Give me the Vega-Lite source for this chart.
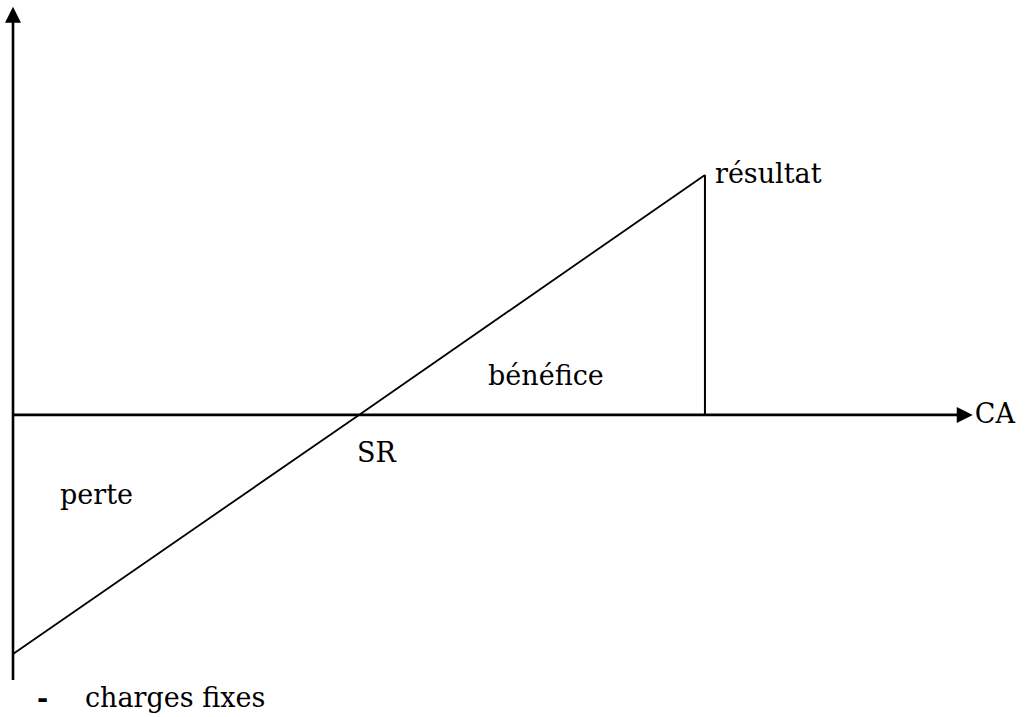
{
  "$schema": "https://vega.github.io/schema/vega-lite/v6.json",
  "width": 1026,
  "height": 717,
  "padding": 0,
  "autosize": {"type": "none"},
  "background": "white",
  "config": {"view": {"stroke": null}},
  "datasets": {
    "axes": [
      {"name": "vertical axis", "ca": 0, "resultat": -110.9, "ca2": 0, "resultat2": 167.4},
      {"name": "CA axis", "ca": 0, "resultat": 0, "ca2": 275.1, "resultat2": 0}
    ],
    "arrows": [
      {"dir": "up", "ca": 0, "resultat": 167.4},
      {"dir": "right", "ca": 275.1, "resultat": 0}
    ],
    "resultLine": [
      {"ca": 0, "resultat": -100},
      {"ca": 100, "resultat": 0},
      {"ca": 200, "resultat": 100.4}
    ],
    "benefit": [
      {"ca": 200, "resultat": 0, "resultat2": 100.4}
    ],
    "labels": [
      {"label": "résultat", "ca": 202.9, "resultat": 97.1},
      {"label": "bénéfice", "ca": 137.3, "resultat": 12.6},
      {"label": "SR", "ca": 99.4, "resultat": -19.7},
      {"label": "perte", "ca": 13.6, "resultat": -37.2},
      {"label": "CA", "ca": 278.0, "resultat": -3.3},
      {"label": "charges fixes", "ca": 20.8, "resultat": -122.2}
    ],
    "bullet": [
      {"label": "-", "ca": 6.9, "resultat": -122.6}
    ]
  },
  "encoding": {
    "x": {"field": "ca", "type": "quantitative", "scale": {"domain": [-3.76, 292.8], "nice": false, "zero": false}, "axis": null},
    "y": {"field": "resultat", "type": "quantitative", "scale": {"domain": [-126.4, 173.6], "nice": false, "zero": false}, "axis": null}
  },
  "layer": [
    {
      "data": {"name": "axes"},
      "mark": {"type": "rule", "color": "black", "strokeWidth": 2.6},
      "encoding": {
        "x2": {"field": "ca2"},
        "y2": {"field": "resultat2"}
      }
    },
    {
      "data": {"name": "arrows"},
      "mark": {"type": "point", "filled": true, "color": "black", "opacity": 1, "size": 256, "strokeWidth": 0},
      "encoding": {
        "shape": {"field": "dir", "type": "nominal", "scale": {"domain": ["up", "right"], "range": ["M0,-1L-1,1L1,1Z", "M1,0L-1,-1L-1,1Z"]}, "legend": null}
      }
    },
    {
      "data": {"name": "resultLine"},
      "mark": {"type": "line", "color": "black", "strokeWidth": 1.8},
      "encoding": {}
    },
    {
      "data": {"name": "benefit"},
      "mark": {"type": "rule", "color": "black", "strokeWidth": 2},
      "encoding": {"y2": {"field": "resultat2"}}
    },
    {
      "data": {"name": "labels"},
      "mark": {"type": "text", "align": "left", "baseline": "alphabetic", "font": "DejaVu Serif", "fontSize": 27, "color": "black"},
      "encoding": {"text": {"field": "label"}}
    },
    {
      "data": {"name": "bullet"},
      "mark": {"type": "text", "align": "left", "baseline": "alphabetic", "font": "DejaVu Serif", "fontSize": 27, "fontWeight": "bold", "color": "black"},
      "encoding": {"text": {"field": "label"}}
    }
  ]
}
